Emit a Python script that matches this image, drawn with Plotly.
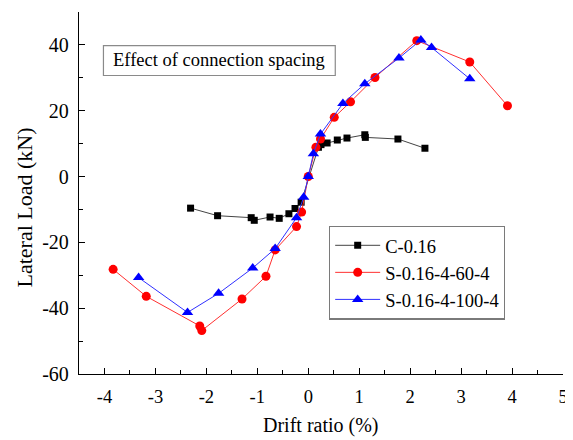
import plotly.graph_objects as go

# C-0.16
c_x = [-2.31, -1.78, -1.12, -1.06, -0.75, -0.57, -0.38, -0.26, -0.14, 0.20, 0.25, 0.37, 0.57, 0.76, 1.11, 1.12, 1.76, 2.29]
c_y = [-9.6, -11.9, -12.5, -13.3, -12.3, -12.7, -11.3, -9.7, -7.8, 8.9, 9.7, 10.2, 11.1, 11.7, 12.7, 11.9, 11.4, 8.6]

# S-0.16-4-60-4
s60_x = [-3.83, -3.18, -2.13, -2.09, -1.30, -0.83, -0.65, -0.23, -0.13, 0.0, 0.15, 0.24, 0.51, 0.83, 1.31, 2.13, 3.17, 3.91]
s60_y = [-28.2, -36.4, -45.4, -46.8, -37.2, -30.3, -22.3, -15.2, -10.8, 0.0, 8.9, 11.4, 18.0, 22.7, 30.1, 41.3, 34.8, 21.5]

# S-0.16-4-100-4
s100_x = [-3.33, -2.37, -1.76, -1.09, -0.65, -0.23, -0.09, 0.0, 0.10, 0.24, 0.68, 1.11, 1.78, 2.21, 2.42, 3.17]
s100_y = [-30.7, -41.3, -35.5, -27.8, -21.9, -12.5, -6.3, 0.0, 6.9, 12.9, 22.2, 28.2, 36.0, 41.5, 39.2, 29.7]

names = ["C-0.16", "S-0.16-4-60-4", "S-0.16-4-100-4"]
x_ticks = [-4, -3, -2, -1, 0, 1, 2, 3, 4, 5]
y_ticks = [-60, -40, -20, 0, 20, 40]
x_title = "Drift ratio (%)"
y_title = "Lateral Load (kN)"
box_text = "Effect of connection spacing"

font = "Liberation Serif, Times New Roman, serif"

fig = go.Figure()
fig.add_trace(go.Scatter(x=c_x, y=c_y, name=names[0], mode="lines+markers",
                         line=dict(color="#444444", width=1),
                         marker=dict(symbol="square", size=7, color="black")))
fig.add_trace(go.Scatter(x=s60_x, y=s60_y, name=names[1], mode="lines+markers",
                         line=dict(color="#ff3030", width=1),
                         marker=dict(symbol="circle", size=9, color="#ff0000")))
fig.add_trace(go.Scatter(x=s100_x, y=s100_y, name=names[2], mode="lines+markers",
                         line=dict(color="#3030ff", width=1),
                         marker=dict(symbol="triangle-up", size=10, color="#0000ff")))

axis_common = dict(showline=True, linecolor="black", linewidth=1.3, ticks="inside",
                   ticklen=6, tickwidth=1.2, tickcolor="black", showgrid=False, zeroline=False,
                   automargin=False, ticklabeloverflow="allow")

fig.update_xaxes(range=[-4.5, 5], tickvals=x_ticks, ticktext=[str(v) for v in x_ticks],
                 tickfont=dict(family=font, size=18.5, color="black"), ticklabelstandoff=6,
                 minor=dict(dtick=0.5, tick0=-4.5, ticks="inside", ticklen=3.5, tickcolor="black", tickwidth=1.2),
                 **axis_common)
fig.update_yaxes(range=[-60, 50], tickvals=y_ticks, ticktext=[str(v) for v in y_ticks],
                 tickfont=dict(family=font, size=20, color="black"), ticklabelstandoff=5,
                 minor=dict(dtick=10, tick0=-60, ticks="inside", ticklen=3.5, tickcolor="black", tickwidth=1.2),
                 **axis_common)

# axis titles
fig.add_annotation(x=0.5, y=-0.1436, xref="paper", yref="paper", xanchor="center", yanchor="middle",
                   text=x_title, showarrow=False, font=dict(family=font, size=20, color="black"))
fig.add_annotation(x=-0.1136, y=0.46, xref="paper", yref="paper", xanchor="center", yanchor="middle",
                   text=y_title, showarrow=False, textangle=-90, font=dict(family=font, size=22, color="black"))

# text box
fig.add_shape(type="rect", xref="x", yref="y", x0=-4.02, x1=0.53, y0=30.7, y1=39.8,
              line=dict(color="#8a8a8a", width=1.2), fillcolor="white", layer="below")
fig.add_annotation(x=(-4.02 + 0.53) / 2, y=35.3, xref="x", yref="y", xanchor="center", yanchor="middle",
                   text=box_text, showarrow=False, font=dict(family=font, size=18.5, color="black"))

# the page body has an 8px margin, so the figure is 8px smaller than the window
fig.update_layout(
    width=565, height=432,
    margin=dict(l=71, r=10, t=4, b=66),
    plot_bgcolor="white", paper_bgcolor="white",
    legend=dict(x=0.5165, y=0.41, xanchor="left", yanchor="top",
                bordercolor="#7a7a7a", borderwidth=1.2, bgcolor="white",
                font=dict(family=font, size=18.5, color="black"),
                tracegroupgap=0, itemwidth=45),
    showlegend=True,
)

fig.write_html("out.html")
